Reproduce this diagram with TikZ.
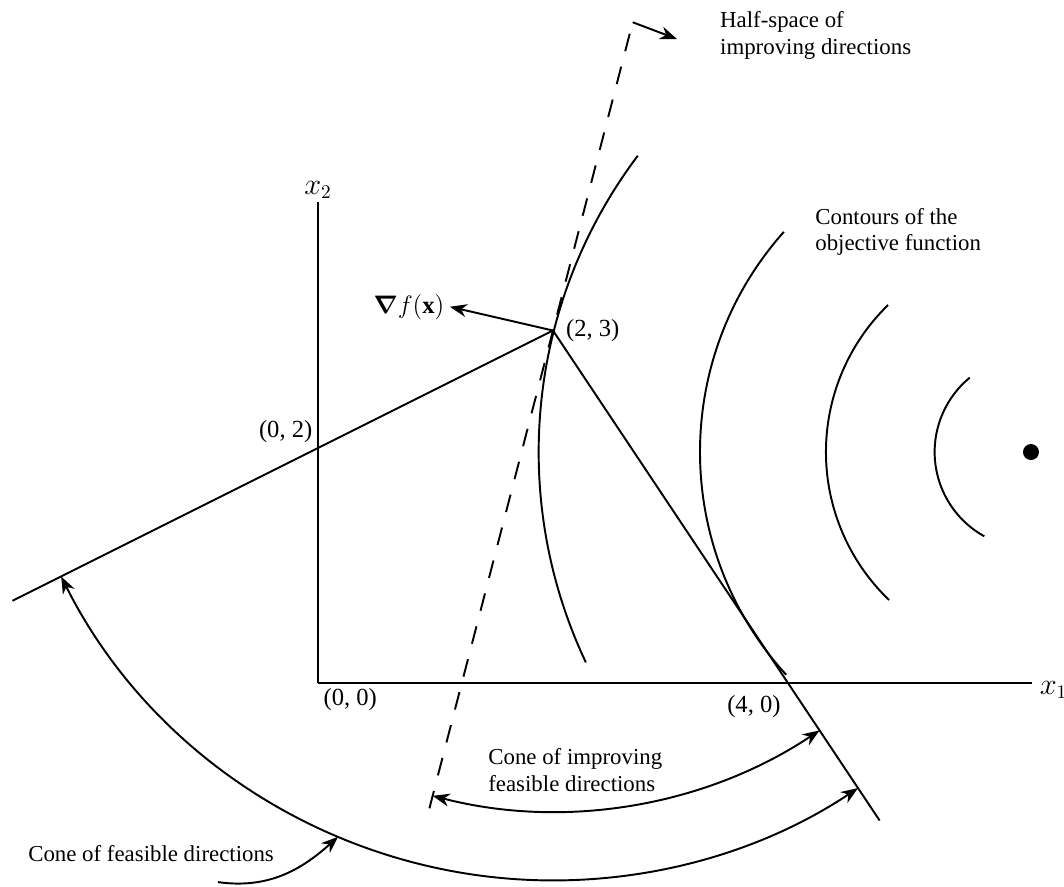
\documentclass[tikz,border=0pt]{standalone}
\usepackage{amsmath,amssymb}
\usepackage{fontspec}
\setmainfont{Liberation Serif}
\usepackage{tikz}
\usetikzlibrary{arrows.meta,positioning,calc}
\tikzset{
  ln/.style={line width=1.1pt, black},
  arr/.style={-{Stealth[length=3.4mm, width=2.6mm]}, line width=1.1pt},
  darr/.style={{Stealth[length=3.4mm, width=2.6mm]}-{Stealth[length=3.4mm, width=2.6mm]}, line width=1.1pt},
  contour/.style={line width=1.1pt},
  lbl/.style={font=\fontsize{13}{15}\selectfont, align=left, inner sep=0pt},
  pt/.style={font=\fontsize{14}{16}\selectfont, inner sep=3pt},
  optdot/.style={circle, fill=black, inner sep=0pt, minimum size=0.32cm},
}

\begin{document}
\begin{tikzpicture}[x=2.35cm, y=2.35cm]
\useasboundingbox (-2.706,-1.728) rectangle (6.349,5.813);
% points of the feasible region
\coordinate (O) at (0,0);
\coordinate (A) at (0,2);
\coordinate (V) at (2,3);
\coordinate (B) at (4,0);
\coordinate (Lend) at (-2.6,0.7);
\coordinate (Rend) at (4.78,-1.17);
\coordinate (xend) at (6.08,0);
\coordinate (yend) at (0,4.09);
% axes
\draw[ln] (O) -- (xend);
\draw[ln] (O) -- (yend);
\node[anchor=west, font=\fontsize{16}{18}\selectfont, inner sep=0pt] (x1) at ($(xend)+(0.06,-0.06)$) {$x_1$};
\node[anchor=south, font=\fontsize{16}{18}\selectfont, inner sep=2pt] (x2) at (yend) {$x_2$};
% constraints through (2,3)
\draw[ln] (Lend) -- (V) -- (Rend);
\node[pt, anchor=north west] (lO) at (O) {(0, 0)};
\node[pt, anchor=south east] (lA) at (A) {(0, 2)};
\node[pt, anchor=west, xshift=0.15cm] (lV) at (V) {(2, 3)};
\node[pt, anchor=north east, inner sep=0pt] (lB) at ($(B)+(-0.06,-0.1)$) {(4, 0)};
% contours of the objective
\node[optdot] (opt) at (6.068,1.966) {};
\draw[contour] ($(opt)+(129.5:0.82)$) arc[start angle=129.5, end angle=241, radius=0.82];
\draw[contour] ($(opt)+(134.2:1.745)$) arc[start angle=134.2, end angle=226.2, radius=1.745];
\draw[contour] ($(opt)+(138.3:2.817)$) arc[start angle=138.3, end angle=222.3, radius=2.817];
\draw[contour] ($(opt)+(143:4.19)$) arc[start angle=143, end angle=205.3, radius=4.19];
\node[lbl, anchor=west] (cont) at (4.23,3.84) {Contours of the\\objective function};
% gradient and half-space
\coordinate (gtip) at ($(V)+(167:0.9)$);
\draw[arr] (V) -- (gtip);
\node[pt, anchor=east] (grad) at (gtip) {$\boldsymbol{\nabla} f(\mathbf{x})$};
\coordinate (hbot) at ($(V)+(255.5:4.2)$);
\coordinate (htop) at ($(V)+(75.5:2.71)$);
\coordinate (htip) at (3.055,5.481);
\draw[ln, dash pattern=on 3.6mm off 3.2mm] (hbot) -- (htop);
\draw[arr] (htop) -- (htip);
\node[lbl, anchor=west] (half) at (3.42,5.51) {Half-space of\\improving directions};
% cones
\coordinate (ci1) at ($(V)+(255.5:4.09)$);
\draw[darr] (ci1) arc[start angle=255.5, end angle=303.69, radius=4.09];
\node[lbl, anchor=west] (cimp) at (1.447,-0.74) {Cone of improving\\feasible directions};
\coordinate (cf1) at ($(V)+(206.57:4.68)$);
\draw[darr] (cf1) arc[start angle=206.57, end angle=303.69, radius=4.68];
\node[lbl, anchor=west] (cfeas) at (-2.468,-1.447) {Cone of feasible directions};
\coordinate (cftail) at (-0.851,-1.694);
\coordinate (cfhit) at ($(V)+(247:4.68)$);
\draw[arr] (cftail) to[out=-8, in=222] (cfhit);
\end{tikzpicture}
\end{document}
